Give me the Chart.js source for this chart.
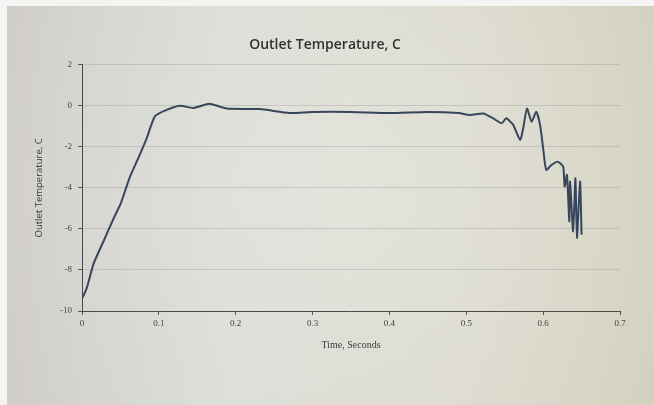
<!DOCTYPE html>
<html>
<head>
<meta charset="utf-8">
<script src="https://cdn.jsdelivr.net/npm/chart.js@4/dist/chart.umd.min.js"></script>
<style>
html,body{margin:0;padding:0;background:#fff;}
#wrap{width:654px;height:405px;}
</style>
</head>
<body>
<div id="wrap"><canvas id="c" width="654" height="405"></canvas></div>
<script>
const chartTitle = "Outlet Temperature, C";
const xTitle = "Time, Seconds";
const yTitle = "Outlet Temperature, C";
const xTicks = [0, 0.1, 0.2, 0.3, 0.4, 0.5, 0.6, 0.7];
const yTicks = [-10, -8, -6, -4, -2, 0, 2];
const time = [0, 0.006, 0.015, 0.028, 0.041, 0.051, 0.062, 0.075, 0.084, 0.095, 0.110, 0.127, 0.145, 0.166, 0.188, 0.231, 0.27, 0.30, 0.35, 0.40, 0.45, 0.49, 0.505, 0.522, 0.535, 0.546, 0.552, 0.561, 0.570, 0.574, 0.579, 0.585, 0.591, 0.596, 0.600, 0.604, 0.611, 0.619, 0.626, 0.628, 0.631, 0.634, 0.635, 0.639, 0.642, 0.644, 0.648, 0.650];
const temp = [-9.4, -8.9, -7.7, -6.6, -5.5, -4.7, -3.5, -2.4, -1.6, -0.5, -0.2, 0, -0.1, 0.1, -0.13, -0.16, -0.35, -0.3, -0.3, -0.35, -0.3, -0.35, -0.45, -0.37, -0.61, -0.85, -0.61, -0.93, -1.66, -1.1, -0.13, -0.78, -0.29, -0.93, -2.07, -3.12, -2.88, -2.72, -2.96, -3.93, -3.36, -5.63, -3.69, -6.12, -3.53, -6.44, -3.69, -6.28];

const points = time.map((t, i) => ({x: t, y: temp[i]}));

const bgPlugin = {
  id: 'bg',
  beforeDraw(chart) {
    const ctx = chart.ctx;
    const w = chart.width, h = chart.height;
    ctx.save();
    ctx.fillStyle = '#f4f4f2';
    ctx.fillRect(0, 0, w, h);
    const g = ctx.createLinearGradient(0, 0, w, 0);
    g.addColorStop(0, '#d0cdc8');
    g.addColorStop(0.35, '#dadcd6');
    g.addColorStop(0.7, '#dbd9cc');
    g.addColorStop(1, '#d4d0be');
    ctx.fillStyle = g;
    ctx.fillRect(7, 6, w - 7, h - 6);
    const a = chart.chartArea;
    const g2 = ctx.createRadialGradient((a.left + a.right) / 2, (a.top + a.bottom) / 2, 20, (a.left + a.right) / 2, (a.top + a.bottom) / 2, 380);
    g2.addColorStop(0, 'rgba(232,232,226,0.6)');
    g2.addColorStop(1, 'rgba(232,232,226,0)');
    ctx.fillStyle = g2;
    ctx.fillRect(7, 6, w - 7, h - 6);
    ctx.restore();
  }
};

new Chart(document.getElementById('c'), {
  type: 'scatter',
  data: {
    datasets: [{
      data: points,
      showLine: true,
      borderColor: '#37465a',
      borderWidth: 2,
      pointRadius: 0,
      tension: 0.2,
      fill: false
    }]
  },
  options: {
    responsive: false,
    animation: false,
    layout: {padding: {left: 30, right: 34, top: 0, bottom: 50}},
    plugins: {
      legend: {display: false},
      tooltip: {enabled: false},
      title: {
        display: true,
        text: chartTitle,
        color: '#333',
        font: {family: 'Open Sans', size: 14, weight: '600'},
        padding: {top: 37, bottom: 11}
      }
    },
    scales: {
      x: {
        type: 'linear',
        min: 0, max: 0.7,
        afterBuildTicks(s) { s.ticks = xTicks.map(v => ({value: v})); },
        afterFit(s) { s.height = 44; },
        ticks: {
          color: '#444',
          font: {family: 'Liberation Serif', size: 9},
          padding: 3,
          callback: v => String(v)
        },
        grid: {display: true, drawOnChartArea: false, drawTicks: true, tickLength: 4, color: '#555'},
        border: {display: true, color: '#4a4a4a', width: 1},
        title: {display: true, text: xTitle, color: '#3a3a3a', font: {family: 'Liberation Serif', size: 10}, padding: {top: 0}}
      },
      y: {
        type: 'linear',
        min: -10, max: 2,
        afterBuildTicks(s) { s.ticks = yTicks.map(v => ({value: v})); },
        afterFit(s) { s.width = 52; },
        ticks: {
          color: '#444',
          font: {family: 'Liberation Serif', size: 9},
          padding: 6,
          callback: v => String(v)
        },
        grid: {display: true, color: 'rgba(150,150,150,0.35)', tickLength: 4, tickColor: '#555'},
        border: {display: true, color: '#4a4a4a', width: 1},
        title: {display: true, text: yTitle, color: '#3a3a3a', font: {family: 'Open Sans', size: 9.5}, padding: {bottom: 4}}
      }
    }
  },
  plugins: [bgPlugin]
});
</script>
</body>
</html>
